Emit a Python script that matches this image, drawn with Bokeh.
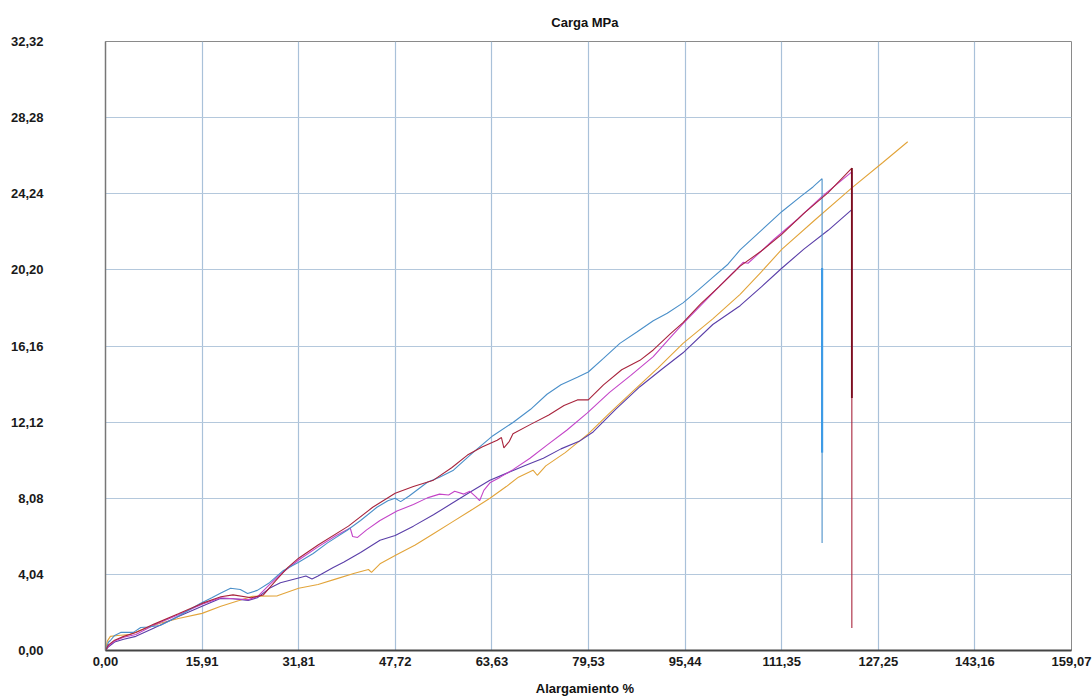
from bokeh.plotting import figure
from bokeh.models import FixedTicker, Range1d
from bokeh.embed import file_html
from bokeh.resources import INLINE

TITLE = "Carga   MPa"
X_LABEL = "Alargamiento   %"

X_TICKS = [0.0, 15.907, 31.814, 47.721, 63.628, 79.535, 95.442, 111.349, 127.256, 143.163, 159.07]
X_TICK_LABELS = ["0,00", "15,91", "31,81", "47,72", "63,63", "79,53", "95,44",
                 "111,35", "127,25", "143,16", "159,07"]
Y_TICKS = [0.0, 4.04, 8.08, 12.12, 16.16, 20.20, 24.24, 28.28, 32.32]
Y_TICK_LABELS = ["0,00", "4,04", "8,08", "12,12", "16,16", "20,20", "24,24", "28,28", "32,32"]

# Specimen curves (elongation %, stress MPa)
blue_x = [0, 0.5, 0.8, 1.5, 2.5, 4.6, 5.8, 7.0, 9.0, 11.0, 13.0, 15.6, 17.5, 19.0, 20.6, 22.2,
          23.4, 25.0, 27.0, 29.3, 31.8, 34.2, 36.5, 39.8, 42.0, 44.7, 46.5, 47.7, 48.6, 50.0,
          53.0, 55.0, 57.3, 60.5, 63.8, 67.1, 70.0, 72.7, 75.0, 77.7, 79.5, 82.0, 84.7, 87.5,
          90.2, 92.5, 95.1, 97.5, 100.0, 102.5, 104.5, 108.0, 111.4, 114.5, 116.5, 118.0,
          118.0, 118.0, 118.0]
blue_y = [0, 0.45, 0.53, 0.8, 0.96, 0.96, 1.22, 1.25, 1.33, 1.65, 2.0, 2.5, 2.8, 3.05, 3.3, 3.24,
          3.03, 3.19, 3.6, 4.25, 4.68, 5.15, 5.7, 6.38, 6.9, 7.6, 7.95, 8.08, 7.9, 8.2,
          8.93, 9.2, 9.57, 10.5, 11.4, 12.1, 12.8, 13.6, 14.1, 14.5, 14.78, 15.5, 16.3, 16.9,
          17.5, 17.9, 18.45, 19.1, 19.8, 20.5, 21.26, 22.3, 23.3, 24.1, 24.6, 25.04,
          20.3, 10.5, 5.7]

red_x = [0, 0.5, 1.5, 3.0, 5.0, 8.0, 12.0, 15.9, 19.0, 21.0, 24.0, 26.0, 28.0, 30.0, 31.8,
         35.0, 40.0, 44.0, 47.7, 50.7, 54.0, 57.0, 59.6, 62.0, 64.5, 65.2, 65.6, 66.5, 67.1,
         70.0, 73.0, 75.5, 77.7, 79.5, 82.0, 85.0, 88.0, 90.2, 93.0, 95.1, 98.0, 101.0, 104.5,
         108.0, 111.4, 115.0, 119.0, 122.9, 122.9, 122.9]
red_y = [0, 0.3, 0.55, 0.75, 0.95, 1.4, 1.95, 2.5, 2.85, 2.95, 2.8, 2.95, 3.7, 4.4, 4.9,
         5.6, 6.6, 7.6, 8.35, 8.7, 9.04, 9.7, 10.37, 10.8, 11.16, 11.3, 10.75, 11.1, 11.5,
         12.0, 12.5, 13.0, 13.3, 13.3, 14.1, 14.9, 15.4, 15.95, 16.8, 17.4, 18.4, 19.3, 20.4,
         21.2, 22.1, 23.2, 24.3, 25.6, 13.4, 1.2]

orange_x = [0, 0.3, 0.8, 2.0, 4.0, 6.0, 9.0, 12.0, 15.9, 19.0, 22.0, 24.2, 28.3, 31.8, 35.0,
            38.0, 41.0, 43.3, 43.8, 45.2, 48.0, 51.0, 54.0, 57.0, 60.0, 63.3, 66.0, 68.0, 70.4,
            71.1, 72.5, 75.7, 79.5, 83.0, 87.0, 91.0, 95.1, 100.0, 104.5, 108.0, 111.4, 117.0,
            122.9, 128.0, 132.1]
orange_y = [0, 0.5, 0.75, 0.8, 0.85, 1.1, 1.45, 1.7, 1.97, 2.35, 2.65, 2.88, 2.9, 3.3, 3.5,
            3.8, 4.1, 4.3, 4.15, 4.6, 5.1, 5.6, 6.2, 6.8, 7.4, 8.08, 8.7, 9.2, 9.57,
            9.3, 9.8, 10.5, 11.5, 12.6, 13.8, 15.0, 16.3, 17.6, 18.9, 20.1, 21.3, 22.9,
            24.55, 25.9, 27.0]

purple_x = [0, 0.5, 1.5, 3.0, 5.0, 8.0, 12.0, 15.9, 18.9, 21.0, 23.5, 25.0, 27.0, 28.8, 31.8,
            33.0, 34.0, 35.0, 37.5, 39.2, 42.0, 45.2, 47.7, 50.7, 54.0, 57.0, 60.0, 63.3, 66.0,
            69.0, 72.1, 75.0, 78.0, 80.3, 84.0, 88.0, 91.5, 95.1, 100.0, 104.5, 108.0, 111.4,
            115.0, 119.0, 122.9]
purple_y = [0, 0.2, 0.45, 0.6, 0.75, 1.2, 1.8, 2.35, 2.76, 2.75, 2.66, 2.8, 3.3, 3.6, 3.85,
            3.95, 3.8, 3.95, 4.4, 4.68, 5.2, 5.85, 6.1, 6.6, 7.2, 7.8, 8.4, 9.04, 9.4,
            9.8, 10.2, 10.7, 11.1, 11.6, 12.8, 14.0, 14.9, 15.8, 17.3, 18.3, 19.3, 20.3,
            21.3, 22.3, 23.4]

magenta_x = [0, 0.5, 1.5, 3.0, 5.0, 8.0, 12.0, 15.9, 19.0, 21.0, 23.5, 25.0, 27.0, 29.0, 31.8,
             35.0, 38.0, 40.3, 40.7, 41.5, 43.0, 45.2, 48.0, 50.7, 53.0, 55.0, 56.5, 57.5, 59.0,
             60.0, 61.0, 61.6, 62.3, 63.3, 65.0, 67.1, 69.9, 72.7, 76.0, 79.3, 83.0, 86.5, 90.2,
             93.0, 95.1, 98.0, 101.0, 103.5, 105.0, 105.8, 107.0, 110.0, 114.0, 118.0, 122.9,
             122.9]
magenta_y = [0, 0.25, 0.5, 0.7, 0.85, 1.35, 1.9, 2.45, 2.8, 2.75, 2.7, 2.85, 3.5, 4.1, 4.8,
             5.5, 6.1, 6.5, 6.05, 6.0, 6.4, 6.9, 7.4, 7.75, 8.1, 8.3, 8.25, 8.45, 8.3,
             8.45, 8.15, 7.95, 8.5, 8.9, 9.2, 9.6, 10.2, 10.9, 11.7, 12.6, 13.7, 14.6, 15.6,
             16.6, 17.35, 18.3, 19.3, 20.1, 20.6, 20.55, 20.9, 21.8, 22.9, 24.1, 25.4,
             13.4]

FONT = "Liberation Sans"

p = figure(width=1092, height=698, output_backend="svg", toolbar_location=None,
           x_range=Range1d(X_TICKS[0], X_TICKS[-1]), y_range=Range1d(Y_TICKS[0], Y_TICKS[-1]),
           min_border_left=105, min_border_right=21, min_border_top=41, min_border_bottom=48,
           title=TITLE)

p.title.align = "center"
p.title.text_font = FONT
p.title.text_font_size = "13px"
p.title.text_font_style = "bold"
p.title.text_color = "#111111"
p.title.standoff = 24

p.xaxis.ticker = FixedTicker(ticks=X_TICKS)
p.yaxis.ticker = FixedTicker(ticks=Y_TICKS)
p.xaxis.major_label_overrides = dict(zip(X_TICKS, X_TICK_LABELS))
p.yaxis.major_label_overrides = dict(zip(Y_TICKS, Y_TICK_LABELS))

for ax in (p.xaxis, p.yaxis):
    ax.major_tick_out = 0
    ax.major_tick_in = 0
    ax.minor_tick_out = 0
    ax.minor_tick_in = 0
    ax.major_label_text_font = FONT
    ax.major_label_text_font_size = "13px"
    ax.major_label_text_font_style = "bold"
    ax.major_label_text_color = "#1a1a1a"

p.xaxis.axis_line_color = "#444444"
p.xaxis.axis_line_width = 2
p.yaxis.axis_line_color = "#777777"
p.yaxis.axis_line_width = 1.5
p.xaxis.major_label_standoff = 6
p.yaxis.major_label_standoff = 62

p.xaxis.axis_label = X_LABEL
p.xaxis.axis_label_text_font = FONT
p.xaxis.axis_label_text_font_size = "13px"
p.xaxis.axis_label_text_font_style = "bold"
p.xaxis.axis_label_text_color = "#111111"
p.xaxis.axis_label_standoff = 12

p.xgrid.grid_line_color = "#a9c1d9"
p.ygrid.grid_line_color = "#b4c8dc"
p.xgrid.grid_line_width = 1.2
p.ygrid.grid_line_width = 1.2

p.outline_line_color = "#8a8a8a"
p.outline_line_width = 1
p.background_fill_color = "white"
p.border_fill_color = "white"

p.line(orange_x, orange_y, line_color="#e2a43a", line_width=1.1)
p.line(purple_x, purple_y, line_color="#5a3ea8", line_width=1.1)
p.line(magenta_x, magenta_y, line_color="#c445c8", line_width=1.1)
p.line(blue_x, blue_y, line_color="#4a8fc9", line_width=1.1)
p.line(red_x, red_y, line_color="#a8243c", line_width=1.1)
# heavier parts of the drops at rupture
p.line(blue_x[-3:-1], blue_y[-3:-1], line_color="#3d9be6", line_width=2.2)
p.line(red_x[-3:-1], red_y[-3:-1], line_color="#7a0f1e", line_width=1.8)

open("out.html", "w").write(file_html(p, INLINE))
